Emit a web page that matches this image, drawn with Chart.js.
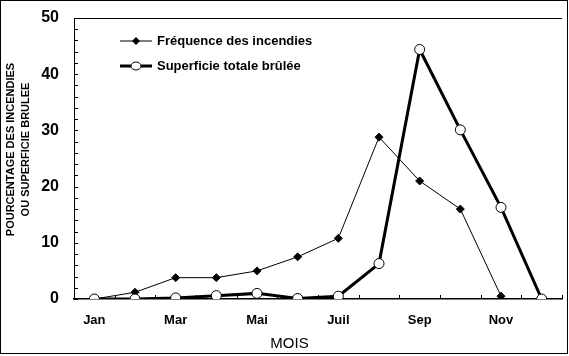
<!DOCTYPE html>
<html>
<head>
<meta charset="utf-8">
<script src="https://cdn.jsdelivr.net/npm/chart.js@4.4.0/dist/chart.umd.min.js"></script>
<style>
  html, body { margin: 0; padding: 0; background: #fff; }
  #wrap { width: 569px; height: 356px; }
</style>
</head>
<body>
<div id="wrap"><canvas id="c" width="569" height="356"></canvas></div>
<script>
// ---- data ----
const months = ['Jan', 'Fév', 'Mar', 'Avr', 'Mai', 'Juin', 'Juil', 'Août', 'Sep', 'Oct', 'Nov', 'Déc'];
const frequence = [0, 1.2, 3.8, 3.8, 5.0, 7.5, 10.8, 28.8, 21.0, 16.0, 0.5, null];
const superficie = [0, 0, 0.2, 0.6, 1.0, 0.1, 0.5, 6.3, 44.4, 30.1, 16.3, 0];
const seriesLabels = ['Fréquence des incendies', 'Superficie totale brûlée'];
const yTitle = ['POURCENTAGE DES INCENDIES', 'OU SUPERFICIE BRULEE'];
const xTitle = 'MOIS';
const yMin = 0, yMax = 50, yMinorStep = 2, yMajorStep = 10;

const FONT = '"Liberation Sans", Arial, Helvetica, sans-serif';
const TICK = 4;

const decorPlugin = {
  id: 'decor',
  beforeDraw(chart) {
    const ctx = chart.ctx;
    ctx.save();
    ctx.fillStyle = '#fff';
    ctx.fillRect(0, 0, chart.width, chart.height);
    ctx.restore();
  },
  beforeDatasetsDraw(chart) {
    const ctx = chart.ctx;
    const a = chart.chartArea;
    const xs = chart.scales.x, ys = chart.scales.y;
    ctx.save();
    ctx.strokeStyle = '#000';
    ctx.lineWidth = 1;
    ctx.beginPath();
    ys.ticks.forEach(t => {
      const y = Math.round(ys.getPixelForValue(t.value)) + 0.5;
      ctx.moveTo(a.left, y);
      ctx.lineTo(a.left + TICK, y);
    });
    const n = chart.data.labels.length;
    for (let i = 0; i <= n; i++) {
      let x;
      if (i === 0) x = a.left;
      else if (i === n) x = a.right;
      else x = (xs.getPixelForValue(i - 1) + xs.getPixelForValue(i)) / 2;
      x = Math.round(x) + 0.5;
      ctx.moveTo(x, a.bottom);
      ctx.lineTo(x, a.bottom - TICK);
    }
    ctx.moveTo(a.left, Math.round(a.top) + 0.5);
    ctx.lineTo(a.right, Math.round(a.top) + 0.5);
    ctx.stroke();
    ctx.restore();
  },
  afterDraw(chart) {
    const ctx = chart.ctx;
    const a = chart.chartArea;
    ctx.save();
    ctx.strokeStyle = '#000';
    ctx.lineWidth = 1;
    ctx.strokeRect(0.5, 0.5, chart.width - 2, chart.height - 3);

    ctx.fillStyle = '#000';
    ctx.font = 'bold 11px ' + FONT;
    ctx.textAlign = 'center';
    ctx.textBaseline = 'middle';
    ctx.save();
    ctx.translate(11, (a.top + a.bottom) / 2 - 9);
    ctx.rotate(-Math.PI / 2);
    ctx.fillText(yTitle[0], 0, 0);
    ctx.fillText(yTitle[1], 0, 14.5);
    ctx.restore();

    ctx.font = '15px ' + FONT;
    ctx.textAlign = 'center';
    ctx.textBaseline = 'middle';
    ctx.fillText(xTitle, chart.width / 2 + 5, 344);

    const lx = a.left + 46, lw = 32;
    const rows = [a.top + 23, a.top + 48];
    chart.data.datasets.forEach((ds, i) => {
      const y = rows[i];
      ctx.strokeStyle = '#000';
      ctx.lineWidth = ds.borderWidth;
      ctx.beginPath();
      ctx.moveTo(lx, y);
      ctx.lineTo(lx + lw, y);
      ctx.stroke();
      ctx.lineWidth = 1;
      const cx = lx + lw / 2;
      if (ds.pointStyle === 'rectRot') {
        const r = ds.pointRadius;
        ctx.fillStyle = '#000';
        ctx.beginPath();
        ctx.moveTo(cx, y - r); ctx.lineTo(cx + r, y); ctx.lineTo(cx, y + r); ctx.lineTo(cx - r, y);
        ctx.closePath();
        ctx.fill();
      } else {
        ctx.fillStyle = '#fff';
        ctx.beginPath();
        ctx.ellipse(cx, y, ds.pointRadius, ds.pointRadius - 1, 0, 0, Math.PI * 2);
        ctx.fill();
        ctx.stroke();
      }
      ctx.fillStyle = '#000';
      ctx.font = 'bold 13px ' + FONT;
      ctx.textAlign = 'left';
      ctx.textBaseline = 'middle';
      ctx.fillText(ds.label, lx + lw + 5, y);
    });
    ctx.restore();
  }
};

new Chart(document.getElementById('c'), {
  type: 'line',
  data: {
    labels: months,
    datasets: [
      {
        label: seriesLabels[0],
        data: frequence,
        borderColor: '#000',
        borderWidth: 1,
        pointStyle: 'rectRot',
        pointRadius: 4,
        pointBackgroundColor: '#000',
        pointBorderColor: '#000',
        pointBorderWidth: 1,
        tension: 0,
        order: 1
      },
      {
        label: seriesLabels[1],
        data: superficie,
        borderColor: '#000',
        borderWidth: 3,
        pointStyle: 'circle',
        pointRadius: 5,
        pointBackgroundColor: '#fff',
        pointBorderColor: '#000',
        pointBorderWidth: 1,
        tension: 0,
        order: 0
      }
    ]
  },
  options: {
    responsive: false,
    animation: false,
    devicePixelRatio: 1,
    layout: { padding: { left: 0, top: 18, right: 7, bottom: 0 } },
    plugins: { legend: { display: false }, tooltip: { enabled: false }, title: { display: false } },
    scales: {
      x: {
        type: 'category',
        offset: true,
        afterFit(scale) { scale.height = 57; scale.paddingLeft = 0; scale.paddingRight = 0; },
        grid: { display: false, drawTicks: false },
        border: { display: true, color: '#000', width: 1.5 },
        ticks: {
          autoSkip: false, maxRotation: 0, minRotation: 0, padding: 14,
          color: '#000', font: { family: FONT, size: 13, weight: 'bold' },
          callback: (v, i) => (i % 2 === 0 ? months[i] : '')
        }
      },
      y: {
        min: yMin, max: yMax,
        afterFit(scale) { scale.width = 74; scale.paddingTop = 0; scale.paddingBottom = 0; },
        grid: { display: false, drawTicks: false },
        border: { display: true, color: '#000', width: 1 },
        ticks: {
          autoSkip: false, stepSize: yMinorStep, padding: 15,
          color: '#000', font: { family: FONT, size: 16, weight: 'bold' },
          callback: v => (v % yMajorStep === 0 ? v : '')
        }
      }
    }
  },
  plugins: [decorPlugin]
});
</script>
</body>
</html>
